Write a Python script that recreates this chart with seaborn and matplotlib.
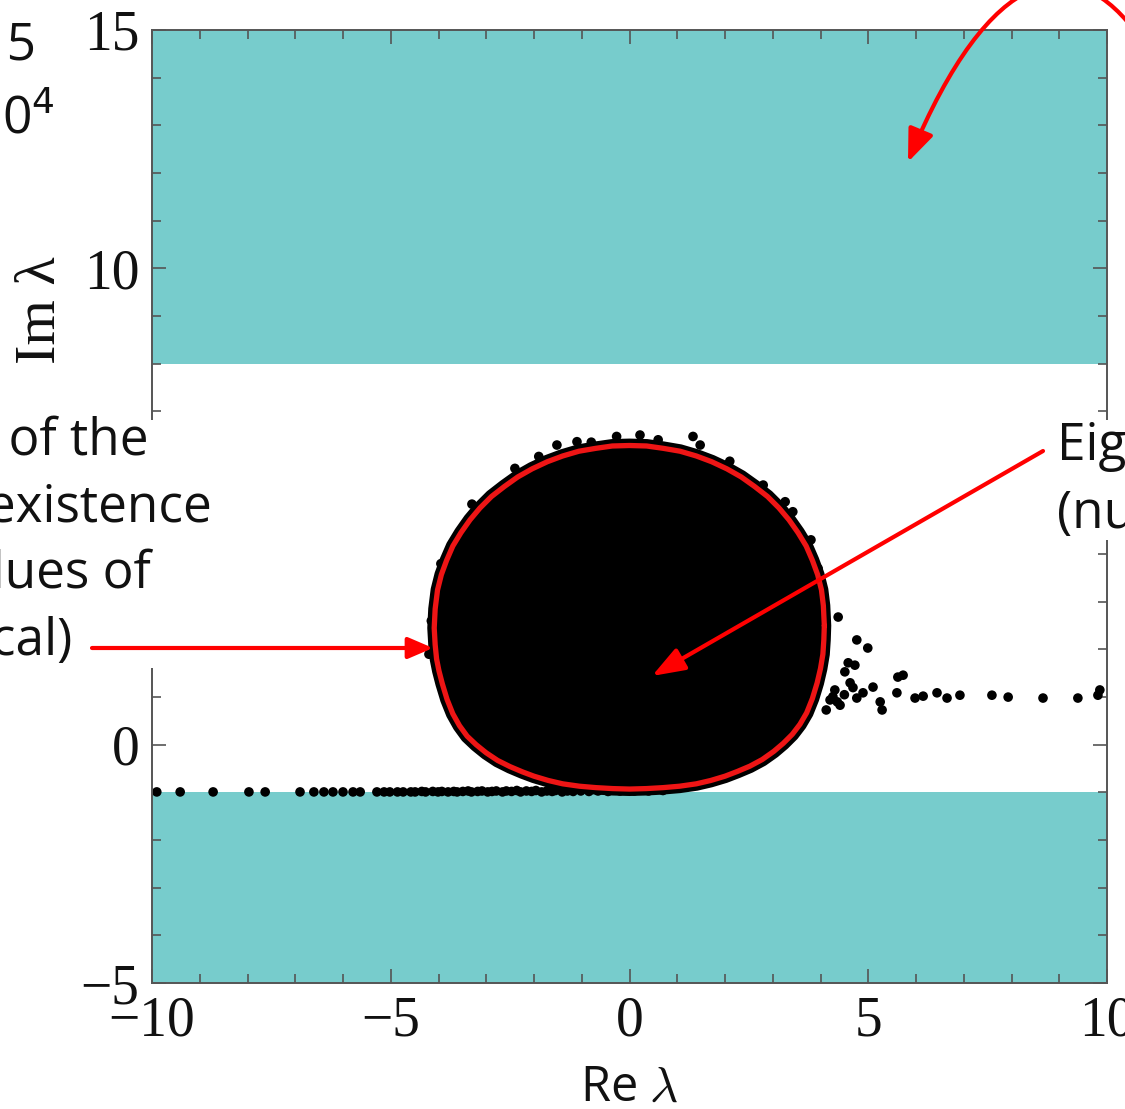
import numpy as np
import pandas as pd
import seaborn as sns
import matplotlib.pyplot as plt
from matplotlib.patches import Rectangle, FancyArrowPatch
from matplotlib.path import Path

# ---------------- data ----------------
# theoretical boundary of the eigenvalue region (red curve)
boundary_re = [4.08, 4.06, 4.02, 3.94, 3.83, 3.70, 3.53, 3.34, 3.13, 2.89,
               2.62, 2.34, 2.04, 1.72, 1.40, 1.06, 0.71, 0.36, 0.00,
               -0.36, -0.71, -1.06, -1.40, -1.72, -2.04, -2.34, -2.62, -2.89,
               -3.13, -3.34, -3.53, -3.70, -3.83, -3.94, -4.02, -4.07, -4.09,
               -4.07, -4.04, -3.99, -3.92, -3.82, -3.70, -3.56, -3.40, -3.21,
               -3.00, -2.76, -2.50, -2.24, -2.00, -1.70, -1.40, -1.05, -0.70,
               -0.35, 0.00, 0.35, 0.70, 1.05, 1.40, 1.70, 2.00, 2.26, 2.52,
               2.78, 3.02, 3.22, 3.41, 3.57, 3.71, 3.83, 3.93, 4.00, 4.05,
               4.07, 4.08]
boundary_im = [2.50, 2.92, 3.25, 3.57, 3.87, 4.17, 4.45, 4.72, 4.97, 5.21,
               5.42, 5.62, 5.79, 5.94, 6.06, 6.16, 6.22, 6.27, 6.28,
               6.27, 6.22, 6.16, 6.06, 5.94, 5.79, 5.62, 5.42, 5.21,
               4.97, 4.72, 4.45, 4.17, 3.87, 3.57, 3.25, 2.85, 2.45,
               2.10, 1.80, 1.55, 1.28, 0.95, 0.65, 0.40, 0.18, 0.00,
               -0.17, -0.33, -0.46, -0.57, -0.66, -0.75, -0.82, -0.87, -0.90,
               -0.92, -0.93, -0.92, -0.90, -0.87, -0.82, -0.75, -0.66, -0.56, -0.45,
               -0.31, -0.14, 0.03, 0.22, 0.43, 0.67, 0.97, 1.30, 1.60, 1.90,
               2.20, 2.50]

# numerical eigenvalues lying outside the dense cloud
tail_low_re = [-9.90, -9.41, -8.72, -7.97, -7.63, -6.90, -6.61, -6.40, -6.21, -6.00,
               -5.79, -5.64, -5.29, -5.14, -5.02, -4.86, -4.74, -4.58, -4.49, -4.35,
               -4.27, -4.12, -4.01, -3.93, -3.80, -3.68, -3.61, -3.49, -3.38, -3.31,
               -3.18, -3.09, -2.97, -2.88, -2.79, -2.66, -2.58, -2.47, -2.36, -2.28,
               -2.16, -2.05, -1.96, -1.84, -1.73, -1.62, -1.55, -1.41, -1.30, -1.18,
               -1.02, -0.85, -0.66, -0.45, -0.20, 0.10, 0.40, 0.70]
tail_low_im = [-0.99, -0.99, -0.99, -0.99, -0.99, -0.99, -0.99, -0.99, -0.99, -0.99,
               -0.99, -0.99, -0.99, -0.99, -0.99, -0.99, -0.99, -0.99, -0.99, -0.98,
               -0.99, -0.98, -0.99, -0.98, -0.99, -0.98, -0.99, -0.98, -0.97, -0.99,
               -0.98, -0.97, -0.99, -0.98, -0.97, -0.99, -0.97, -0.98, -0.96, -0.99,
               -0.97, -0.98, -0.96, -0.99, -0.97, -0.98, -0.96, -0.99, -0.97, -0.98,
               -0.97, -0.98, -0.97, -0.98, -0.97, -0.97, -0.97, -0.96]
tail_right_re = [4.37, 4.76, 4.99, 4.58, 4.72, 4.62, 4.76, 4.89, 5.10, 5.25,
                 5.29, 5.60, 5.62, 5.73, 5.98, 6.15, 6.44, 6.65, 6.92, 7.59,
                 7.93, 8.66, 9.39, 9.81, 9.85, 4.20, 4.41, 4.30, 4.12, 4.51,
                 4.26, 4.50, 4.35, 4.68]
tail_right_im = [2.68, 2.20, 2.03, 1.72, 1.67, 1.30, 0.98, 1.09, 1.21, 0.90,
                 0.73, 1.09, 1.42, 1.46, 0.98, 1.02, 1.09, 0.98, 1.04, 1.04,
                 1.00, 0.98, 0.98, 1.04, 1.15, 0.94, 0.83, 1.15, 0.73, 1.53,
                 1.01, 1.05, 0.90, 1.20]
edge_re = [-1.52, -1.10, -0.27, 0.22, 1.33, 1.48, 3.26, 3.42, -2.40, -3.30,
           -3.95, -4.15, -4.20, 2.10, 3.80, 3.95, -0.80, 0.60, 2.80, -1.90]
edge_im = [6.29, 6.36, 6.47, 6.50, 6.47, 6.29, 5.10, 4.89, 5.80, 5.05,
           3.80, 2.60, 1.90, 5.95, 4.30, 3.70, 6.35, 6.40, 5.45, 6.05]

band_high = [8.0, 15.0]   # shaded region (no eigenvalues), upper
band_low = [-5.0, -1.0]   # shaded region, lower

xticks_major = [-10, -5, 0, 5, 10]
yticks_major = [-5, 0, 5, 10, 15]

# ---------------- figure ----------------
sns.set_theme(style="ticks")
plt.rcParams['font.family'] = ['Open Sans', 'DejaVu Sans']
plt.rcParams['mathtext.fontset'] = 'cm'

W, H = 1125, 1109
fig = plt.figure(figsize=(W / 100, H / 100), dpi=100)
fig.patch.set_facecolor('white')


def fx(px):
    return px / W


def fy(py):
    return 1 - py / H


ax = fig.add_axes([fx(152), fy(983), (1107 - 152) / W, (983 - 30) / H])
ax.set_facecolor('white')

teal = '#77CCCC'
ax.axhspan(band_high[0], band_high[1], color=teal, lw=0, zorder=0)
ax.axhspan(band_low[0], band_low[1], color=teal, lw=0, zorder=0)

# dense cloud of eigenvalues
ax.fill(boundary_re, boundary_im, facecolor='black', edgecolor='black',
        lw=10, zorder=2, joinstyle='round')

pts = pd.DataFrame({
    're': tail_low_re + tail_right_re + edge_re,
    'im': tail_low_im + tail_right_im + edge_im,
})
sns.scatterplot(data=pts, x='re', y='im', color='black', s=48,
                edgecolor='none', ax=ax, zorder=3, clip_on=False)

bnd = pd.DataFrame({'re': boundary_re, 'im': boundary_im})
sns.lineplot(data=bnd, x='re', y='im', sort=False, estimator=None,
             color='#EE1515', lw=3.8, ax=ax, zorder=4)

ax.set_xlim(-10, 10)
ax.set_ylim(-5, 15)
ax.set_xticks(xticks_major)
ax.set_yticks(yticks_major)
ax.set_xticks(np.arange(-10, 11, 1), minor=True)
ax.set_yticks(np.arange(-5, 16, 1), minor=True)

spine_c = '#555555'
for s in ax.spines.values():
    s.set_visible(True)
    s.set_color(spine_c)
    s.set_linewidth(1.4)
    s.set_zorder(5)
ax.tick_params(which='both', direction='in', top=True, right=True,
               color=spine_c, width=1.2)
ax.tick_params(which='major', length=10, pad=9)
ax.tick_params(which='minor', length=6.5)
for lab in ax.get_xticklabels() + ax.get_yticklabels():
    lab.set_fontfamily('Liberation Serif')
    lab.set_fontsize(40)
    lab.set_color('#111111')

ax.set_xlabel('Re $\\lambda$', fontsize=35, labelpad=11, color='#111111')
ax.set_ylabel('Im λ', fontsize=42, fontfamily='Liberation Serif', color='#111111')
ax.yaxis.set_label_coords(-0.089, 0.706)

# ---------------- annotations ----------------
# white boxes behind annotation texts
fig.add_artist(Rectangle((fx(0), fy(668)), fx(215), (668 - 420) / H,
                         transform=fig.transFigure, facecolor='white',
                         edgecolor='none', zorder=1))
fig.add_artist(Rectangle((fx(1040), fy(540)), fx(1125 - 1040), (540 - 420) / H,
                         transform=fig.transFigure, facecolor='white',
                         edgecolor='none', zorder=1))

tk = dict(fontsize=37, color='#111111', va='baseline', zorder=6)
fig.text(fx(148), fy(455), 'Boundary  of the', ha='right', **tk)
fig.text(fx(212), fy(522), 'region of existence', ha='right', **tk)
fig.text(fx(151), fy(588), 'of eigenvalues of', ha='right', **tk)
fig.text(fx(72), fy(655), '(analytical)', ha='right', **tk)

fig.text(fx(1057), fy(460), 'Eigenvalues', ha='left', **tk)
fig.text(fx(1057), fy(528), '(numerical)', ha='left', **tk)

fig.text(fx(36), fy(60), 'n = 5', ha='right', **tk)
fig.text(fx(55), fy(133), 'N = 10$^4$', ha='right', math_fontfamily='dejavusans', **tk)

red = '#FF0000'
a1 = FancyArrowPatch(posA=(fx(92), fy(648)), posB=(fx(433), fy(648)),
                     transform=fig.transFigure,
                     arrowstyle='-|>,head_length=0.42,head_width=0.18',
                     mutation_scale=36, lw=3, color=red, shrinkA=0, shrinkB=0,
                     zorder=7)
fig.add_artist(a1)
a2 = FancyArrowPatch(posA=(fx(1043), fy(451)), posB=(fx(652), fy(676)),
                     transform=fig.transFigure,
                     arrowstyle='-|>,head_length=0.55,head_width=0.2',
                     mutation_scale=36, lw=3, color=red, shrinkA=0, shrinkB=0,
                     zorder=7)
fig.add_artist(a2)
verts = [(fx(1140), fy(38)), (fx(1075), fy(-55)), (fx(990), fy(-35)), (fx(908), fy(162))]
codes = [Path.MOVETO, Path.CURVE4, Path.CURVE4, Path.CURVE4]
a3 = FancyArrowPatch(path=Path(verts, codes), transform=fig.transFigure,
                     arrowstyle='-|>,head_length=0.55,head_width=0.22',
                     mutation_scale=36, lw=3, color=red, shrinkA=0, shrinkB=0,
                     zorder=7)
fig.add_artist(a3)

fig.savefig('out.png', dpi=100, facecolor='white')
